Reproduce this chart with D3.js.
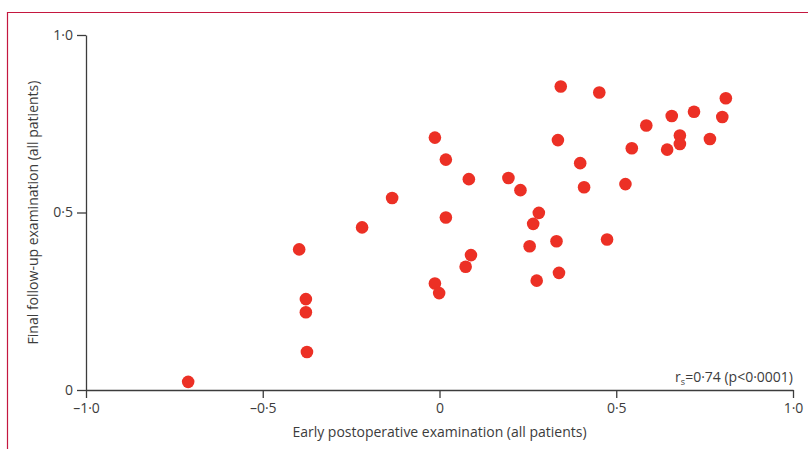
<!DOCTYPE html>
<html>
<head>
<meta charset="utf-8">
<script src="https://cdn.jsdelivr.net/npm/d3@7"></script>
<style>
  body { margin: 0; background: #fff; }
  svg { display: block; font-family: "Open Sans", sans-serif; }
</style>
</head>
<body>
<svg width="808" height="449"></svg>
<script>
// early postoperative (x) vs final follow-up (y), one point per patient
const earlyPostop = [-0.711, -0.397, -0.378, -0.378, -0.375, -0.219, -0.134, -0.013, 0.018, 0.083,
  0.018, 0.089, 0.074, -0.013, -0.001, 0.195, 0.229, 0.281, 0.265, 0.255,
  0.275, 0.343, 0.335, 0.331, 0.338, 0.398, 0.409, 0.452, 0.474, 0.526,
  0.544, 0.585, 0.644, 0.657, 0.680, 0.680, 0.720, 0.765, 0.800, 0.810];
const finalFollowUp = [0.023, 0.396, 0.256, 0.219, 0.107, 0.458, 0.541, 0.711, 0.649, 0.594,
  0.486, 0.380, 0.347, 0.300, 0.273, 0.597, 0.563, 0.499, 0.468, 0.405,
  0.308, 0.855, 0.704, 0.419, 0.330, 0.639, 0.571, 0.838, 0.424, 0.580,
  0.681, 0.745, 0.677, 0.772, 0.717, 0.693, 0.784, 0.707, 0.769, 0.822];
const xTicks = [-1, -0.5, 0, 0.5, 1];
const yTicks = [0, 0.5, 1];

const points = earlyPostop.map((x, i) => ({ x: x, y: finalFollowUp[i] }));

// lancet style decimals: 0·5 with a middle dot, dash for negatives
const fmt = d => d === 0 ? "0" : (d < 0 ? "\u2013" : "") + d3.format(".1f")(Math.abs(d)).replace(".", "\u00b7");

const svg = d3.select("svg");
const inkColor = "#3c3c3c";

// panel frame, top and left only
svg.append("path")
  .attr("d", "M7.5,449 V12.5 H808")
  .attr("fill", "none")
  .attr("stroke", "#c4173f")
  .attr("stroke-width", 1.2);

const xScale = d3.scaleLinear().domain([-1, 1]).range([86, 793]);
const yScale = d3.scaleLinear().domain([0, 1]).range([390, 35]);

const xAxis = svg.append("g")
  .attr("transform", `translate(0,${yScale(0)})`)
  .call(d3.axisBottom(xScale).tickValues(xTicks).tickFormat(fmt).tickSize(8).tickPadding(5).tickSizeOuter(0));

const yAxis = svg.append("g")
  .attr("transform", `translate(${xScale(-1)},0)`)
  .call(d3.axisLeft(yScale).tickValues(yTicks).tickFormat(fmt).tickSize(9).tickPadding(4).tickSizeOuter(0));

[xAxis, yAxis].forEach(g => {
  g.select(".domain").attr("stroke", inkColor).attr("stroke-width", 1.3);
  g.selectAll(".tick line").attr("stroke", inkColor).attr("stroke-width", 1.3);
  g.selectAll(".tick text").attr("fill", inkColor).style("font-size", "14px").style("font-family", "'Open Sans', sans-serif");
});

// axis titles
svg.append("text")
  .attr("x", (xScale(-1) + xScale(1)) / 2)
  .attr("y", 437)
  .attr("text-anchor", "middle")
  .attr("fill", inkColor)
  .style("font-size", "14px")
  .text("Early postoperative examination (all patients)");

svg.append("text")
  .attr("transform", `translate(38,${(yScale(0) + yScale(1)) / 2}) rotate(-90)`)
  .attr("text-anchor", "middle")
  .attr("fill", inkColor)
  .style("font-size", "14px")
  .text("Final follow-up examination (all patients)");

// correlation note
const note = svg.append("text")
  .attr("x", xScale(1))
  .attr("y", 382)
  .attr("text-anchor", "end")
  .attr("fill", inkColor)
  .style("font-size", "14px");
note.append("tspan").text("r");
note.append("tspan").attr("dy", 3).style("font-size", "9px").text("s");
note.append("tspan").attr("dy", -3).text("=0\u00b774 (p<0\u00b70001)");

svg.append("g")
  .selectAll("circle")
  .data(points)
  .enter()
  .append("circle")
  .attr("cx", d => xScale(d.x))
  .attr("cy", d => yScale(d.y))
  .attr("r", 6.3)
  .style("fill", "#ec3025");
</script>
</body>
</html>
